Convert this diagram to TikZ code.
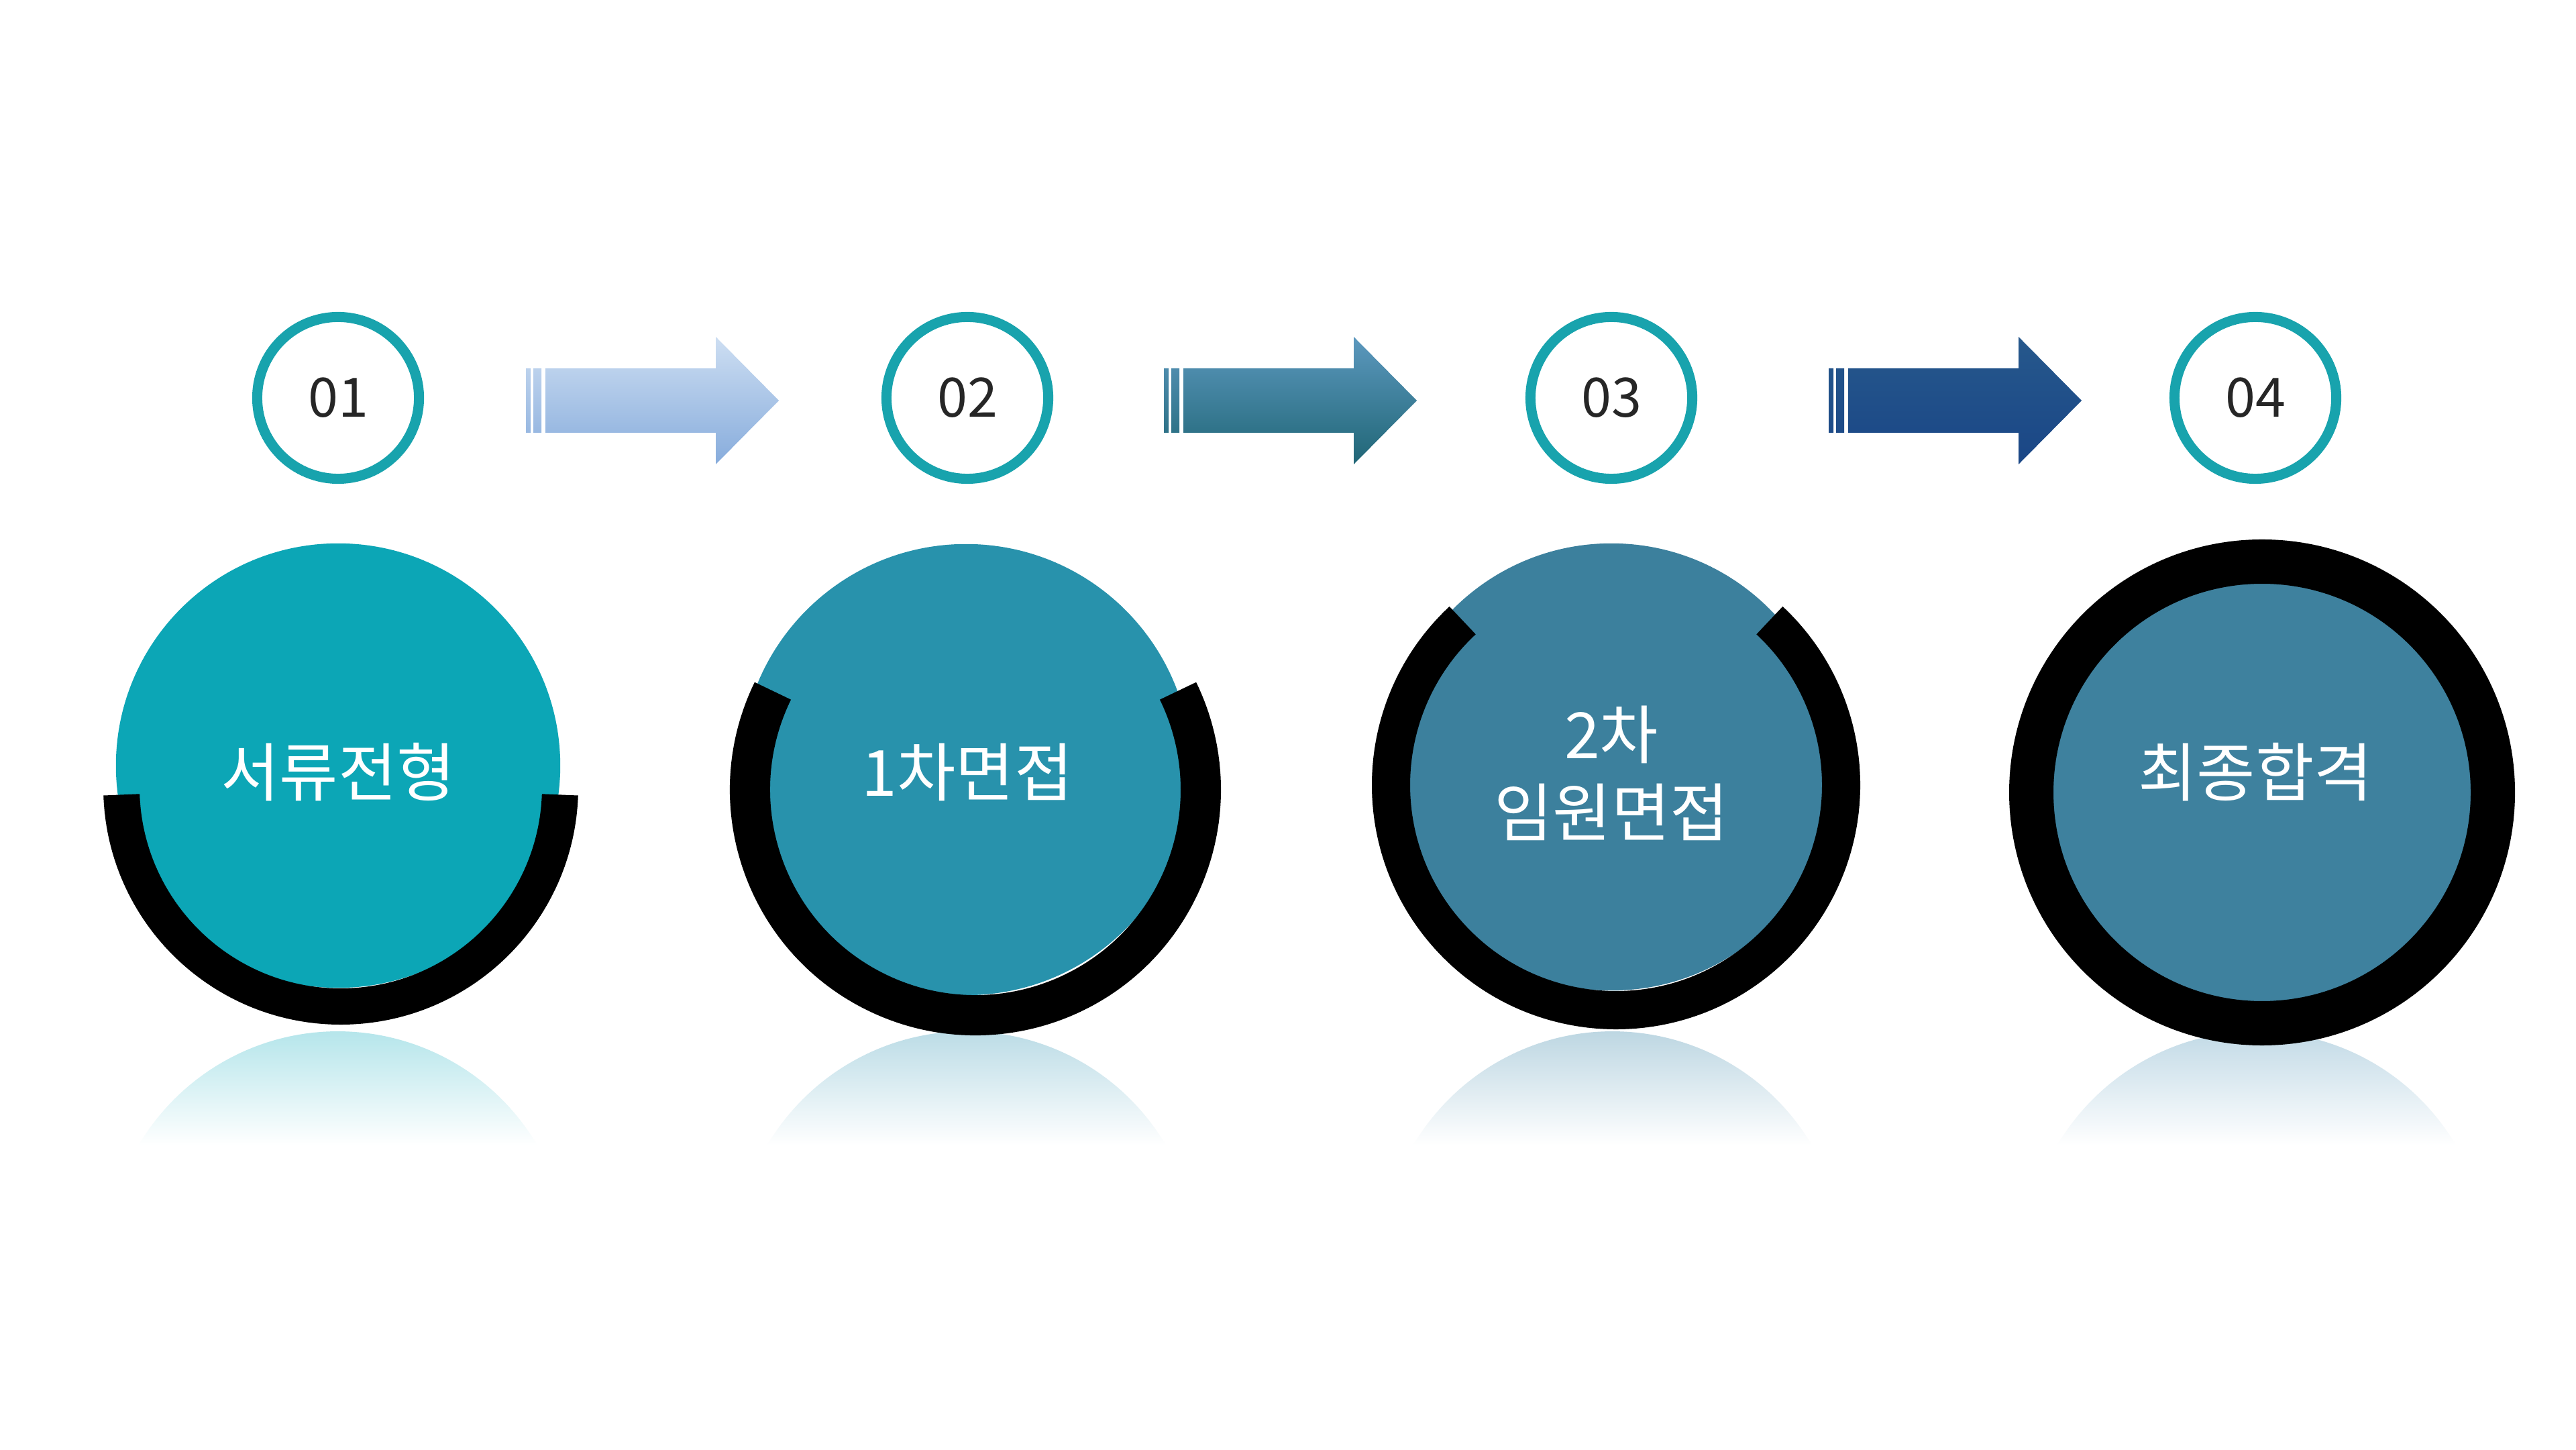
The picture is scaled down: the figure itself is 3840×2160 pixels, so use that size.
\documentclass[tikz,border=0pt]{standalone}
\usepackage{fontspec}
\usepackage{graphicx}
\newfontfamily\krfont{Noto Sans CJK KR}
\newcommand\nrw[1]{\scalebox{1.0}[1]{#1}}
\definecolor{ringteal}{RGB}{24,163,173}
\definecolor{fillA}{RGB}{12,166,182}
\definecolor{fillB}{RGB}{40,146,172}
\definecolor{fillC}{RGB}{60,128,157}
\definecolor{fillD}{RGB}{62,129,158}
\definecolor{refA}{RGB}{160,222,229}
\definecolor{refB}{RGB}{168,210,223}
\definecolor{refC}{RGB}{170,203,218}
\definecolor{refD}{RGB}{176,207,223}
\definecolor{arAt}{RGB}{205,222,242}
\definecolor{arAb}{RGB}{135,172,220}
\definecolor{arBt}{RGB}{92,152,190}
\definecolor{arBb}{RGB}{32,102,118}
\definecolor{arCt}{RGB}{38,88,140}
\definecolor{arCb}{RGB}{26,70,134}
\tikzset{
  numc/.style={circle, draw=ringteal, line width=0.15cm, minimum size=2.41cm, inner sep=0pt,
    font=\krfont\fontsize{23}{27}\selectfont, text=black!85},
  bigc/.style={circle, inner sep=0pt, draw=none},
  ringarc/.style={draw=black, line cap=butt},
  lbl/.style={text=white, inner sep=0pt, font=\krfont\fontsize{27}{33}\selectfont}
}
\begin{document}
\begin{tikzpicture}[x=0.01cm,y=0.01cm]
\useasboundingbox (0,0) rectangle (3840,2160);
\fill[white] (0,0) rectangle (3840,2160);

% reflections
\foreach \cx/\col in {504/refA, 1441/refB, 2404/refC, 3364/refD}{
  \shade[top color=\col, bottom color=white]
    (\cx+297,453) arc[start angle=30.5, end angle=149.5, radius=345] -- cycle;
}

% arrows
\foreach \s/\ct/\cb in {784/arAt/arAb, 1735/arBt/arBb, 2726/arCt/arCb}{
  \shade[top color=\ct, bottom color=\cb]
    (\s,1515) rectangle (\s+7,1611)
    (\s+11,1515) rectangle (\s+23,1611)
    (\s+29,1515) -- (\s+283,1515) -- (\s+283,1468) -- (\s+377,1563)
      -- (\s+283,1658) -- (\s+283,1611) -- (\s+29,1611) -- cycle;
}

% number circles
\node[numc] (n1) at (504,1567) {01};
\node[numc] (n2) at (1442,1567) {02};
\node[numc] (n3) at (2402,1567) {03};
\node[numc] (n4) at (3362,1567) {04};

% big filled circles
\node[bigc, fill=fillA, minimum size=6.62cm] (c1) at (504,1019) {};
\node[bigc, fill=fillB, minimum size=6.72cm] (c2) at (1440,1013) {};
\node[bigc, fill=fillC, minimum size=6.66cm] (c3) at (2402,1017) {};
\node[bigc, fill=fillD, minimum size=6.40cm] (c4) at (3372,979) {};

% black rings
\draw[ringarc, line width=0.54cm] (508,987) ++(182:327) arc[start angle=182, end angle=358, radius=327];
\draw[ringarc, line width=0.60cm] (1454,983) ++(154:336) arc[start angle=154, end angle=386, radius=336];
\draw[ringarc, line width=0.57cm] (2409,990) ++(133:335.5) arc[start angle=133, end angle=407, radius=335.5];
\draw[ringarc, line width=0.66cm] (3372,979) circle[radius=344];

% labels
\node[lbl] (t1) at (504,1009) {\nrw{서류전형}};
\node[lbl] (t2) at (1442,1009) {\nrw{1차면접}};
\node[lbl, align=center] (t3) at (2402,1008) {\nrw{2차}\\\nrw{임원면접}};
\node[lbl] (t4) at (3362,1009) {\nrw{최종합격}};
\end{tikzpicture}
\end{document}
